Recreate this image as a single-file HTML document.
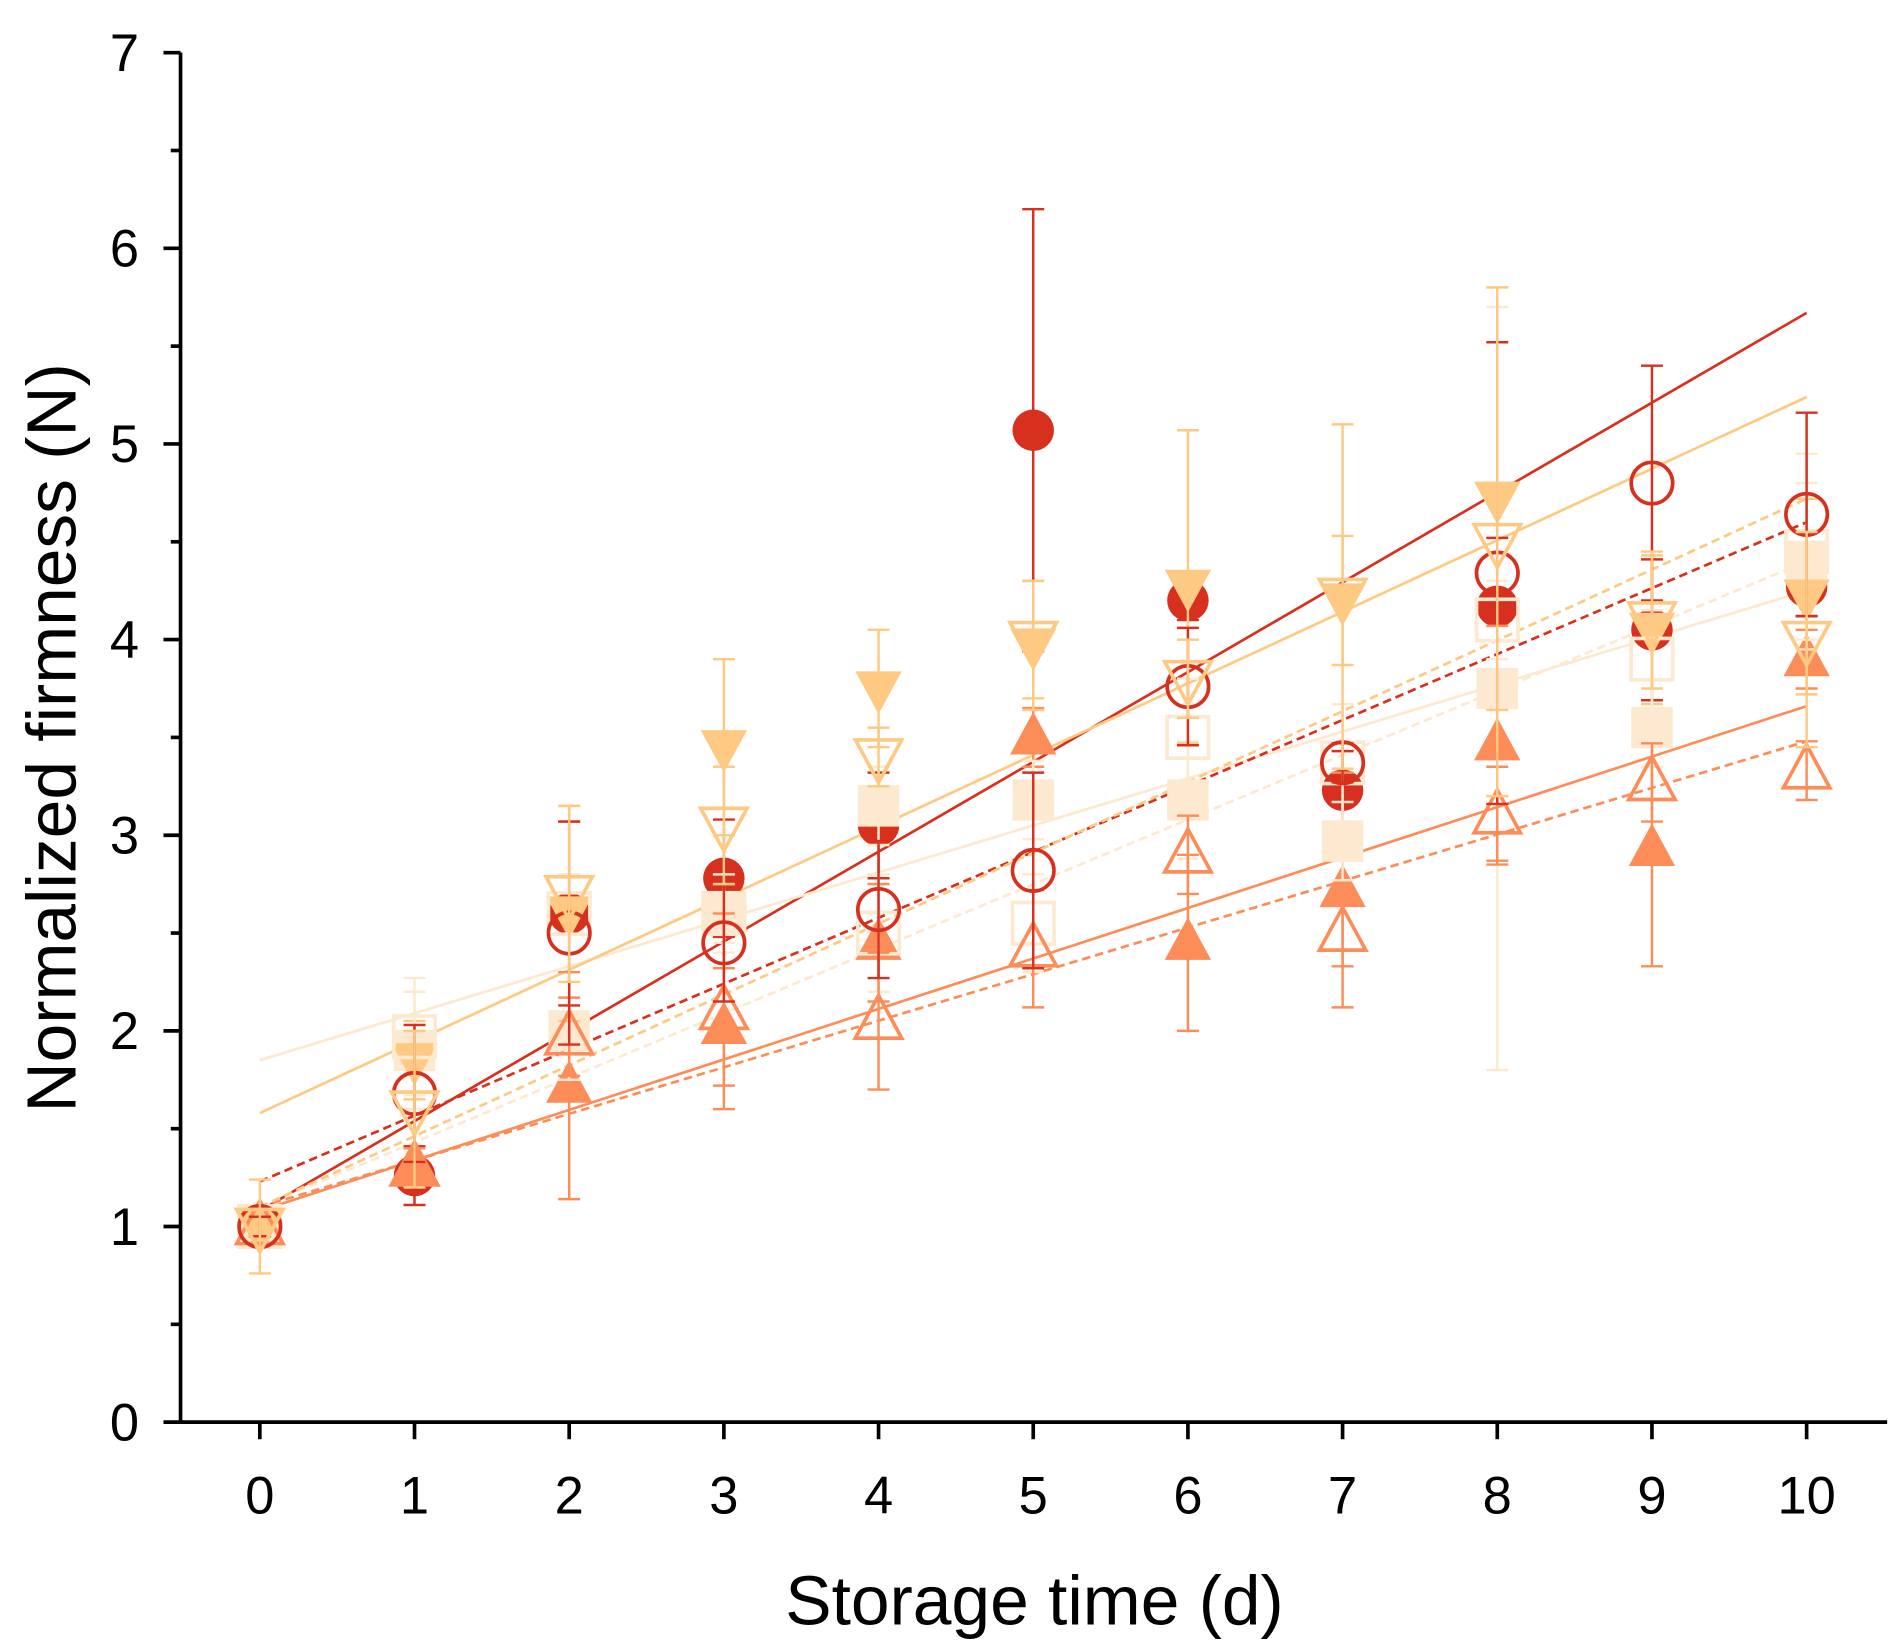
<!DOCTYPE html>
<html><head><meta charset="utf-8"><style>
html,body{margin:0;padding:0;background:#fff}
svg{display:block}
text{font-family:"Liberation Sans",Arial,sans-serif;fill:#000}
</style></head><body>
<svg id="chart" width="1903" height="1649" viewBox="0 0 1560 1352" preserveAspectRatio="none" xmlns="http://www.w3.org/2000/svg">
<g id="grid-axes"></g>
<g id="fits"></g>
<g id="marks"></g>
<text transform="translate(62,605) rotate(-90)" text-anchor="middle" font-size="57">Normalized firmness (N)</text>
<text x="848" y="1332" text-anchor="middle" font-size="57">Storage time (d)</text>
</svg>
<script>
const days = [0,1,2,3,4,5,6,7,8,9,10];
const yTicks = [0,1,2,3,4,5,6,7];
const seriesNames = ['red-filled-circle','red-open-circle','orange-filled-triangle','orange-open-triangle','amber-filled-down-triangle','amber-open-down-triangle','cream-filled-square','cream-open-square'];
const valsA = [1,1.26,2.6,2.78,3.05,5.07,4.2,3.23,4.17,4.05,4.27];
const valsB = [1,1.68,2.5,2.45,2.62,2.82,3.76,3.37,4.34,4.8,4.64];
const valsC = [1,1.3,1.72,2.02,2.45,3.5,2.45,2.72,3.47,2.93,3.9];
const valsD = [1,1.3,1.97,2.1,2.05,2.42,2.9,2.5,3.1,3.27,3.33];
const valsE = [1,1.85,2.6,3.45,3.75,3.97,4.27,4.2,4.72,4.05,4.22];
const valsF = [1,1.6,2.7,3.05,3.4,4.0,3.8,4.22,4.5,4.1,4.0];
const valsG = [1,1.9,2.0,2.6,3.15,3.18,3.18,2.97,3.75,3.55,4.4];
const valsH = [1,1.97,2.6,2.6,2.5,2.55,3.5,3.37,4.1,3.9,4.45];
const errA = [0.05,0.15,0.47,0.3,0.27,1.13,0.1,0.2,0.35,0.36,0.15];
const errB = [0.05,0.35,0.57,0.3,0.35,0.5,0.3,0.1,1.18,0.6,0.52];
const errC = [0.05,0.1,0.58,0.3,0.3,0.15,0.45,0.6,0.6,0.6,0.15];
const errD = [0.05,0.1,0.2,0.5,0.35,0.3,0.2,0.17,0.25,0.2,0.15];
const errE = [0.05,0.2,0.55,0.45,0.3,0.33,0.8,0.33,1.08,0.38,0.5];
const errF = [0.24,0.4,0.45,0.3,0.15,0.3,0.2,0.88,1.3,0.35,0.55];
const errG = [0.05,0.3,0.25,0.2,0.2,0.2,0.3,0.2,1.95,0.2,0.4];
const errH = [0.05,0.3,0.2,0.15,0.3,0.25,0.3,0.3,0.2,0.25,0.5];
const fitStart = [1.08,1.23,1.08,1.1,1.58,1.1,1.85,1.1];
const fitEnd = [5.67,4.6,3.66,3.48,5.24,4.72,4.25,4.4];
const allVals=[valsA,valsB,valsC,valsD,valsE,valsF,valsG,valsH];
const allErr=[errA,errB,errC,errD,errE,errF,errG,errH];
const colors=['#d7301f','#d7301f','#fc8d59','#fc8d59','#fdc983','#fdc983','#fde9cf','#fde9cf'];
const shapes=['circle','circle','up','up','down','down','square','square'];
const filled=[true,false,true,false,true,false,true,false];
const dashed=[false,true,false,true,false,true,false,true];
const NS='http://www.w3.org/2000/svg';
const X=v=>213+126.8*v, Y=v=>1166-160.4*v;
function mk(tag,at,parent){const e=document.createElementNS(NS,tag);for(const k in at)e.setAttribute(k,at[k]);parent.appendChild(e);return e;}
const ax=document.getElementById('grid-axes');
let l=mk('line',{x1:148,y1:1166,x2:1547,y2:1166,stroke:'#000','stroke-width':3},ax);


l=mk('line',{x1:148,y1:1167.5,x2:148,y2:43,stroke:'#000','stroke-width':3},ax);


yTicks.forEach(t=>{
  const tk=mk('line',{x1:134,x2:148,y1:Y(t),y2:Y(t),stroke:'#000','stroke-width':3},ax);
  
  
  if(t<7){const m=mk('line',{x1:140,x2:148,y1:Y(t+0.5),y2:Y(t+0.5),stroke:'#000','stroke-width':3},ax);
  
  }
  const tx=mk('text',{x:114,y:Y(t)+15,'text-anchor':'end','font-size':43},ax);tx.textContent=t;
  
  
});
days.forEach(d=>{
  const tk=mk('line',{x1:X(d),x2:X(d),y1:1166,y2:1180,stroke:'#000','stroke-width':3},ax);
  
  
  const tx=mk('text',{x:X(d),y:1241,'text-anchor':'middle','font-size':43},ax);tx.textContent=d;
  
  
});
const fits=document.getElementById('fits'), marks=document.getElementById('marks');
const order=[0,2,6,4,7,3,1,5];
order.forEach(i=>{
  const c=colors[i];
  const f=mk('line',{x1:X(0),y1:Y(fitStart[i]),x2:X(10),y2:Y(fitEnd[i]),stroke:c,'stroke-width':2.2},fits);
  if(dashed[i])f.setAttribute('stroke-dasharray','7,4');
  
  
  const g=mk('g',{},marks);
  
  
  allVals[i].forEach((v,k)=>{
    const x=X(days[k]),y=Y(v),e=allErr[i][k];
    const eb=mk('path',{d:`M${x},${Y(v+e)}V${Y(v-e)}M${x-9},${Y(v+e)}h18M${x-9},${Y(v-e)}h18`,stroke:c,'stroke-width':2,fill:'none'},g);
    
    
    const st={fill:filled[i]?c:'#fff','fill-opacity':filled[i]?1:0,stroke:c,'stroke-width':filled[i]?0:3};
    let m;const r=17;
    if(shapes[i]==='circle')m=mk('circle',Object.assign({cx:x,cy:y,r:r},st),g);
    else if(shapes[i]==='square')m=mk('rect',Object.assign({x:x-r,y:y-r,width:2*r,height:2*r},st),g);
    else if(shapes[i]==='up')m=mk('polygon',Object.assign({points:`${x},${y-21} ${x-19},${y+14} ${x+19},${y+14}`},st),g);
    else m=mk('polygon',Object.assign({points:`${x},${y+21} ${x-19},${y-14} ${x+19},${y-14}`},st),g);
    
    
  });
});
</script>
</body></html>
